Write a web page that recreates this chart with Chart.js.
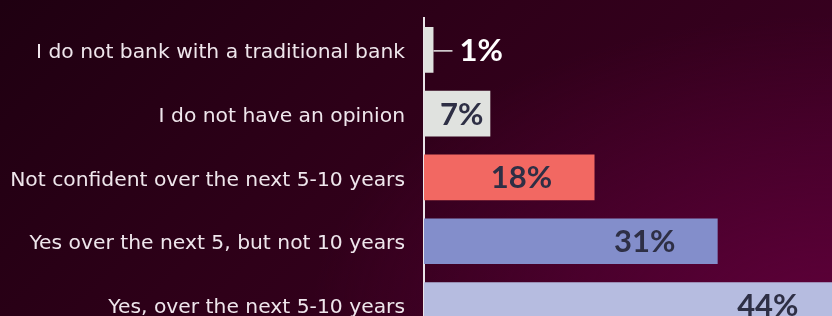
<!DOCTYPE html>
<html>
<head>
<meta charset="utf-8">
<script src="https://cdn.jsdelivr.net/npm/chart.js@4"></script>
<style>
  html, body { margin: 0; padding: 0; width: 832px; height: 316px; overflow: hidden; }
  body {
    background:
      radial-gradient(ellipse 520px 300px at 832px 316px, rgba(95,0,58,0.95) 0%, rgba(95,0,58,0) 100%),
      linear-gradient(135deg, #1f0011 0%, #2f0019 45%, #3d0024 100%);
  }
  #wrap { position: absolute; left: 0; top: 0; width: 832px; height: 349px; }
</style>
</head>
<body>
<div id="wrap"><canvas id="c"></canvas></div>
<script>
const categories = [
  "I do not bank with a traditional bank",
  "I do not have an opinion",
  "Not confident over the next 5-10 years",
  "Yes over the next 5, but not 10 years",
  "Yes, over the next 5-10 years"
];
const values = [1, 7, 18, 31, 44];
const barColors = ["#e0e2df", "#e0e2df", "#f26862", "#838ecb", "#b6bce0"];
const valueLabels = ["1%", "7%", "18%", "31%", "44%"];

const catFont = "'DejaVu Sans', sans-serif";
const labelFont = "Lato, 'Noto Sans', sans-serif";

const valueLabelPlugin = {
  id: "valueLabels",
  afterDatasetsDraw(chart) {
    const ctx = chart.ctx;
    const meta = chart.getDatasetMeta(0);
    ctx.save();
    ctx.font = "bold 31px " + labelFont;
    ctx.textBaseline = "middle";
    meta.data.forEach((bar, i) => {
      const text = valueLabels[i];
      const start = bar.base;
      const end = bar.x;
      const y = bar.y + 1;
      const width = end - start;
      if (width < 20) {
        ctx.strokeStyle = "#e8e8e8";
        ctx.lineWidth = 1.5;
        ctx.beginPath();
        ctx.moveTo(end, y);
        ctx.lineTo(end + 19, y);
        ctx.stroke();
        ctx.fillStyle = "#ffffff";
        ctx.textAlign = "left";
        ctx.fillText(text, end + 26, y);
      } else if (width < 120) {
        ctx.fillStyle = "#2e2f45";
        ctx.textAlign = "right";
        ctx.fillText(text, end - 7, y);
      } else {
        ctx.fillStyle = "#2e2f45";
        ctx.textAlign = "center";
        ctx.fillText(text, end - 73, y);
      }
    });
    ctx.restore();
  }
};

new Chart(document.getElementById("c"), {
  type: "bar",
  data: {
    labels: categories,
    datasets: [{
      data: values,
      backgroundColor: barColors,
      borderWidth: 0,
      categoryPercentage: 1.0,
      barPercentage: 0.715
    }]
  },
  options: {
    indexAxis: "y",
    responsive: true,
    maintainAspectRatio: false,
    animation: false,
    layout: { padding: { top: 18, right: 0, bottom: 0, left: 0 } },
    plugins: { legend: { display: false }, tooltip: { enabled: false } },
    scales: {
      x: {
        display: false,
        min: 0,
        max: 43.07
      },
      y: {
        afterFit(scale) { scale.width = 424; },
        grid: {
          display: true,
          drawOnChartArea: false,
          drawTicks: true,
          tickLength: 19,
          color: "rgba(0,0,0,0)"
        },
        border: { display: true, color: "#e9e4e8", width: 2 },
        ticks: {
          color: "#efe6ec",
          padding: 0,
          labelOffset: 3,
          font: { family: catFont, size: 20.3 }
        }
      }
    }
  },
  plugins: [valueLabelPlugin]
});
</script>
</body>
</html>
